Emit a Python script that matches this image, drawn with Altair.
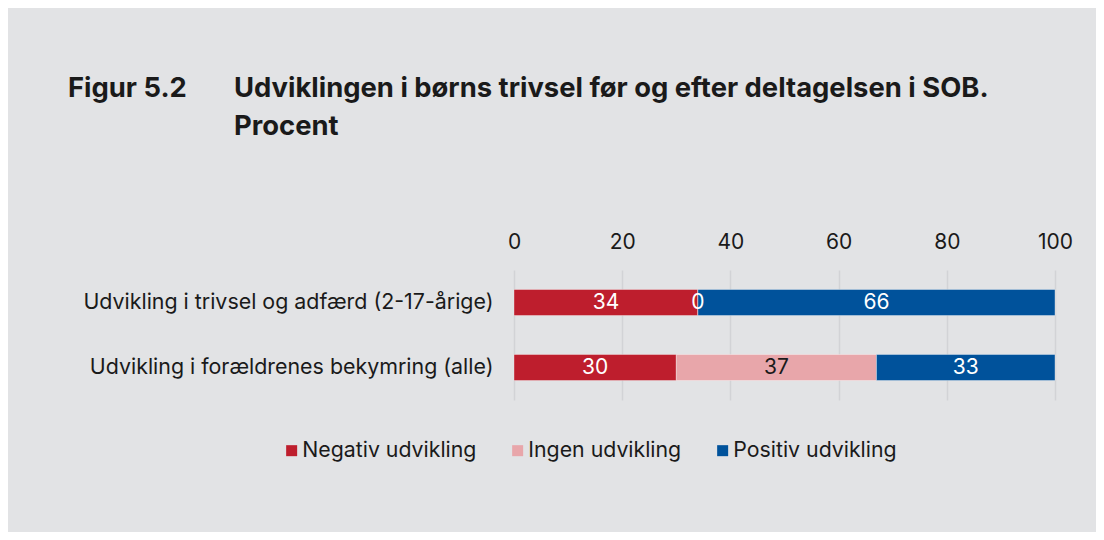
import altair as alt
import pandas as pd

items = ["Udvikling i trivsel og adfærd (2-17-årige)", "Udvikling i forældrenes bekymring (alle)"]
categories = ["Negativ udvikling", "Ingen udvikling", "Positiv udvikling"]
values_trivsel = [34, 0, 66]
values_bekymring = [30, 37, 33]
colors = ["#be1e2d", "#e8a6aa", "#00529b"]
x_ticks = [0, 20, 40, 60, 80, 100]
fig_label = "Figur 5.2"
fig_title = "Udviklingen i børns trivsel før og efter deltagelsen i SOB.\nProcent"

rows = []
for item, vals in zip(items, [values_trivsel, values_bekymring]):
    for i, (c, v) in enumerate(zip(categories, vals)):
        rows.append({"item": item, "kategori": c, "value": v, "ord": i})
df = pd.DataFrame(rows)

FONT = "Inter"
TXT = "#1a1a1a"
FS = 21

base = alt.Chart(df).transform_stack(
    stack="value", groupby=["item"], sort=[alt.SortField("ord")], as_=["x0", "x1"]
).transform_calculate(
    mid="(datum.x0 + datum.x1) / 2",
    lc="datum.kategori == 'Ingen udvikling' && datum.value > 0 ? 'dark' : 'light'",
)

y_enc = alt.Y(
    "item:N", sort=items,
    scale=alt.Scale(paddingInner=0.6, paddingOuter=0.3),
    axis=alt.Axis(title=None, domain=False, ticks=False, labelPadding=21,
                  labelFontSize=21.4, labelFont=FONT, labelColor=TXT, labelLimit=600),
)

bars = base.mark_bar(stroke="#ffffff", strokeOpacity=0.35, strokeWidth=1).encode(
    x=alt.X("x0:Q", scale=alt.Scale(domain=[0, 100], nice=False),
            axis=alt.Axis(orient="top", values=x_ticks, title=None, domain=False,
                          ticks=False, tickSize=0, labelPadding=18, grid=True,
                          labelFlush=False,
                          gridColor="#d2d3d6", gridWidth=1.5,
                          labelFontSize=FS, labelFont=FONT, labelColor=TXT)),
    x2="x1:Q",
    y=y_enc,
    color=alt.Color("kategori:N", sort=categories,
                    scale=alt.Scale(domain=categories, range=colors),
                    legend=alt.Legend(orient="none", legendX=-233, legendY=170,
                                      direction="horizontal", title=None,
                                      symbolType="square", symbolSize=121,
                                      symbolStrokeWidth=0, labelFontSize=21.3,
                                      labelFont=FONT, labelColor=TXT,
                                      labelOffset=0, columnPadding=30,
                                      labelLimit=400)),
    order=alt.Order("ord:Q"),
)

labels = base.mark_text(fontSize=FS, font=FONT, baseline="middle").encode(
    x=alt.X("mid:Q"),
    y=alt.Y("item:N", sort=items),
    text=alt.Text("value:Q"),
    color=alt.Color("lc:N", scale=alt.Scale(domain=["light", "dark"], range=["#ffffff", TXT]), legend=None),
)

head1 = alt.Chart(pd.DataFrame({"t": [fig_label]})).mark_text(
    align="left", baseline="alphabetic", fontSize=27.4, fontWeight="bold", font=FONT, color=TXT
).encode(x=alt.value(68 - 514), y=alt.value(97 - 270), text="t:N")

head2 = alt.Chart(pd.DataFrame({"t": [fig_title]})).mark_text(
    align="left", baseline="alphabetic", fontSize=27.4, fontWeight="bold", font=FONT, color=TXT,
    lineBreak="\n", lineHeight=38
).encode(x=alt.value(234 - 514), y=alt.value(97 - 270), text="t:N")

chart = alt.layer(bars, labels, head1, head2).resolve_scale(color="independent").properties(
    width=541, height=130,
    padding={"left": 506, "top": 262, "right": 41, "bottom": 132},
    autosize=alt.AutoSizeParams(type="none"),
    background="#e2e3e5",
).configure_view(stroke=None)

chart.save("out.html", embed_options={"renderer": "svg", "actions": False})
